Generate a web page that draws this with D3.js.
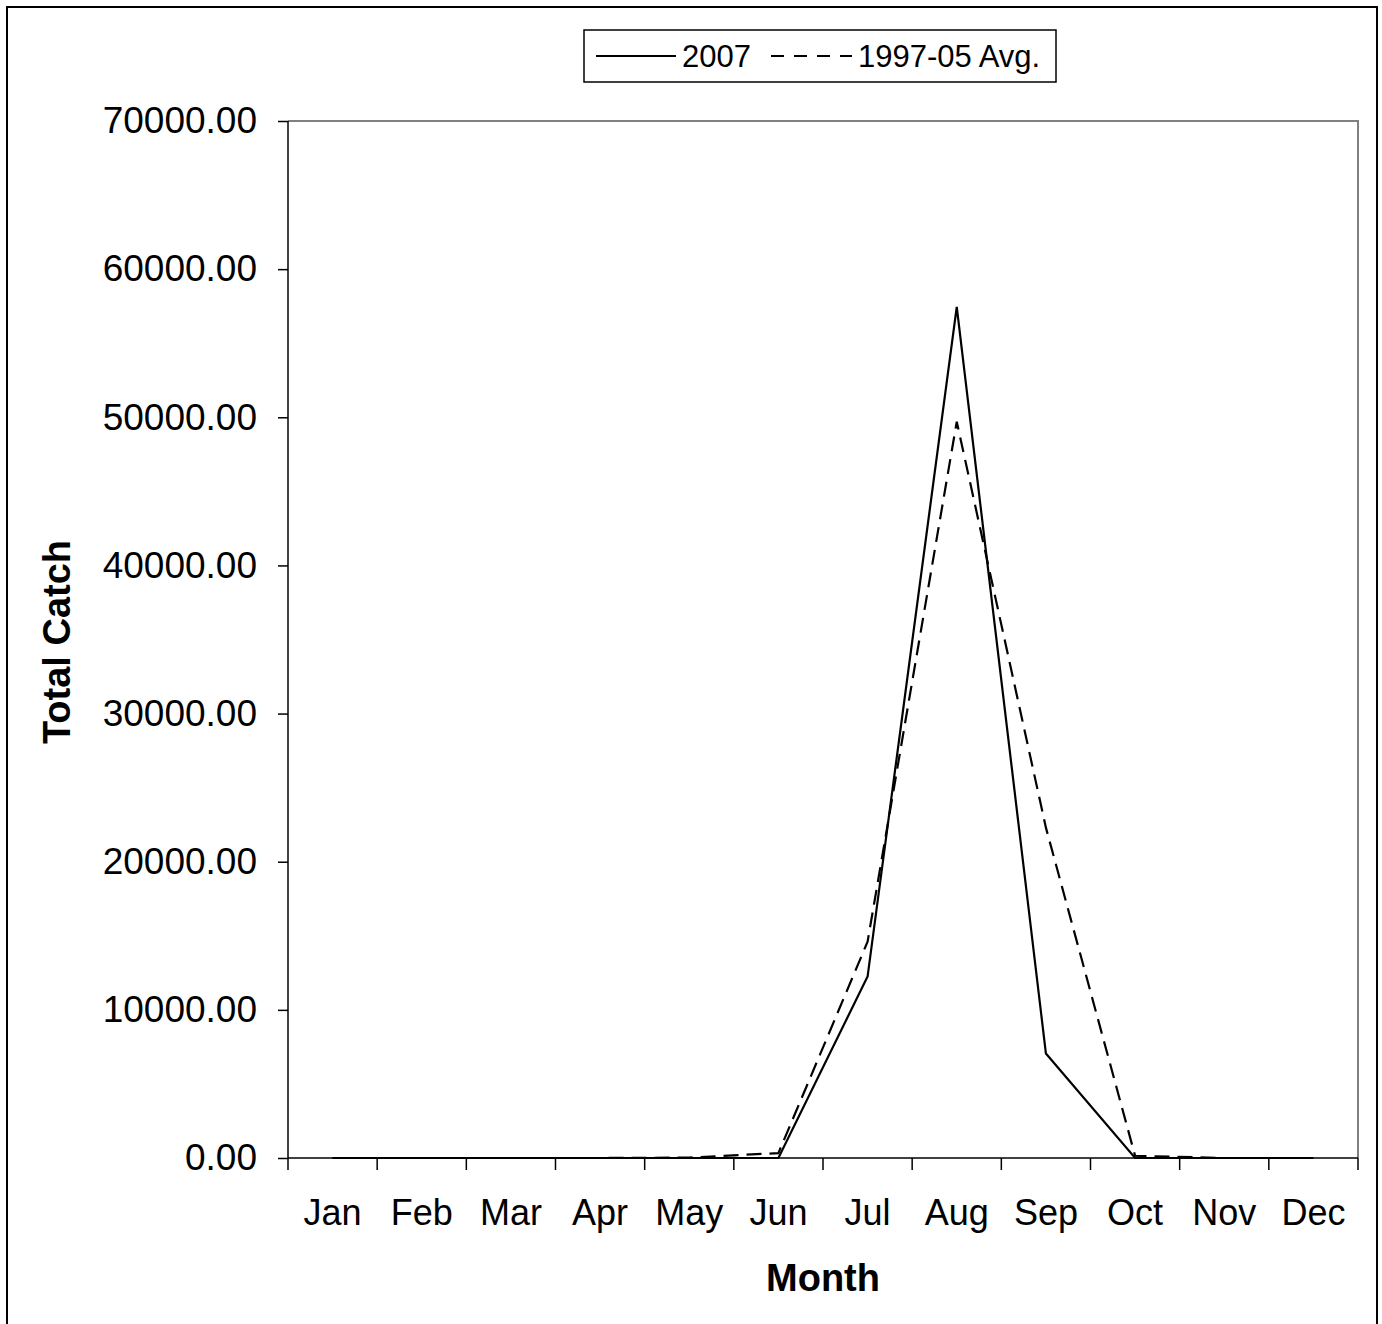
<!DOCTYPE html>
<html><head><meta charset="utf-8">
<script src="https://cdn.jsdelivr.net/npm/d3@7"></script>
<style>body{margin:0;background:#fff}svg{display:block;font-family:"Liberation Sans",Arial,sans-serif}</style>
</head><body><svg id="c" width="1382" height="1324"></svg>
<script>
const months = ["Jan","Feb","Mar","Apr","May","Jun","Jul","Aug","Sep","Oct","Nov","Dec"];
const catch2007 = [0,0,0,0,0,0,12250,57450,7050,0,0,0];
const avg9705 = [0,0,0,0,30,330,14600,49700,22300,150,0,0];
const yTicks = [0,10000,20000,30000,40000,50000,60000,70000];
const seriesNames = ["2007","1997-05 Avg."];

const svg = d3.select("#c");
const L=288,R=1358,T=121,B=1158;
const FONT = "Liberation Sans, Arial, sans-serif";
const x = d3.scaleBand().domain(months).range([L,R]);
const y = d3.scaleLinear().domain([0,70000]).range([B,T]);

// outer border
svg.append("rect").attr("x",7).attr("y",7).attr("width",1370).attr("height",1330)
  .attr("fill","none").attr("stroke","#000").attr("stroke-width",2);

// plot area border (top/right gray)
svg.append("path").attr("d",`M${L},${T}H${R}V${B}`).attr("fill","none").attr("stroke","#808080").attr("stroke-width",2);

// y axis
const ya = svg.append("g").attr("transform",`translate(${L},0)`)
  .call(d3.axisLeft(y).tickValues(yTicks).tickSize(10).tickPadding(21).tickFormat(d3.format(".2f")));
ya.select(".domain").attr("stroke","#000").attr("stroke-width",1.5).attr("d",`M0,${T}V${B}`);
ya.selectAll(".tick line").attr("stroke","#000").attr("stroke-width",1.5);
ya.selectAll("text").attr("font-size",37).attr("fill","#000").attr("font-family",FONT);

// x axis
const xa = svg.append("g").attr("transform",`translate(0,${B})`)
  .call(d3.axisBottom(x).tickSize(0).tickPadding(41));
xa.select(".domain").remove();
xa.append("line").attr("x1",L).attr("x2",R).attr("stroke","#000").attr("stroke-width",1.5);
const edges = d3.range(13).map(i=>L+i*x.step());
xa.selectAll(".edge").data(edges).join("line").attr("class","edge")
  .attr("x1",d=>d).attr("x2",d=>d).attr("y1",0).attr("y2",12).attr("stroke","#000").attr("stroke-width",1.5);
xa.selectAll(".tick text").attr("font-size",36).attr("fill","#000").attr("font-family",FONT);

// lines
const line = d3.line().x((d,i)=>x(months[i])+x.bandwidth()/2).y(d=>y(d));
svg.append("path").datum(catch2007).attr("d",line).attr("fill","none").attr("stroke","#000").attr("stroke-width",2.2);
svg.append("path").datum(avg9705).attr("d",line).attr("fill","none").attr("stroke","#000").attr("stroke-width",2.2).attr("stroke-dasharray","15,8");

// axis titles
svg.append("text").attr("x",823).attr("y",1291).attr("text-anchor","middle").attr("font-size",38).attr("font-weight","bold").text("Month");
svg.append("text").attr("transform","translate(70,642) rotate(-90)").attr("text-anchor","middle").attr("font-size",38).attr("font-weight","bold").text("Total Catch");

// legend
const lg = svg.append("g");
lg.append("rect").attr("x",584).attr("y",30).attr("width",472).attr("height",52).attr("fill","#fff").attr("stroke","#000").attr("stroke-width",1.5);
lg.append("line").attr("x1",596).attr("x2",676).attr("y1",56).attr("y2",56).attr("stroke","#000").attr("stroke-width",2);
lg.append("text").attr("x",682).attr("y",67).attr("font-size",31).text(seriesNames[0]);
lg.append("line").attr("x1",771).attr("x2",852).attr("y1",56).attr("y2",56).attr("stroke","#000").attr("stroke-width",2).attr("stroke-dasharray","13,10");
lg.append("text").attr("x",858).attr("y",67).attr("font-size",31).text(seriesNames[1]);
</script></body></html>
